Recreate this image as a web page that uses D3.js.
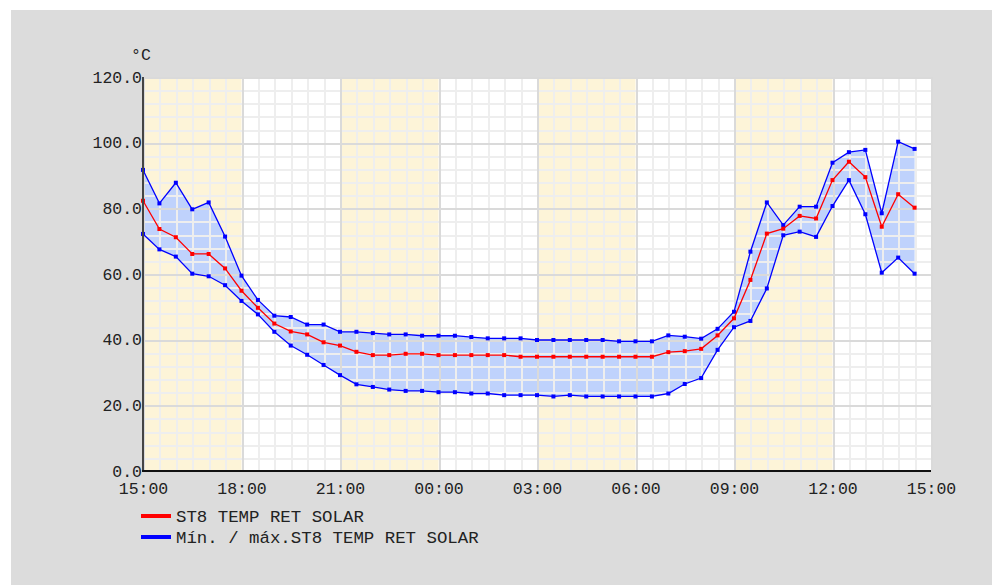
<!DOCTYPE html>
<html>
<head>
<meta charset="utf-8">
<script src="https://cdn.jsdelivr.net/npm/d3@7"></script>
<style>
    body { margin: 0; background: #fff; }
    svg { display: block; }
    text { font-family: "Liberation Mono", "DejaVu Sans Mono", monospace; fill: #222; }
</style>
</head>
<body>
<div id="view"></div>
<script>
// half-hour samples, 15:00 -> 14:30 next day
var times = [
    "15:00", "15:30", "16:00", "16:30", "17:00", "17:30", "18:00", "18:30",
    "19:00", "19:30", "20:00", "20:30", "21:00", "21:30", "22:00", "22:30",
    "23:00", "23:30", "00:00", "00:30", "01:00", "01:30", "02:00", "02:30",
    "03:00", "03:30", "04:00", "04:30", "05:00", "05:30", "06:00", "06:30",
    "07:00", "07:30", "08:00", "08:30", "09:00", "09:30", "10:00", "10:30",
    "11:00", "11:30", "12:00", "12:30", "13:00", "13:30", "14:00", "14:30",
];
var meanTemp = [
    82.3, 73.7, 71.2, 66.1, 66.1, 61.7, 54.9, 49.7, 44.9, 42.5, 41.6, 39.2,
    38.2, 36.3, 35.3, 35.3, 35.7, 35.7, 35.3, 35.3, 35.3, 35.3, 35.3, 34.8,
    34.8, 34.8, 34.8, 34.8, 34.8, 34.8, 34.8, 34.8, 36.2, 36.5, 37.2, 41.3,
    46.5, 58.2, 72.3, 73.8, 77.7, 76.9, 88.6, 94.2, 89.5, 74.4, 84.3, 80.2,
];
var minTemp = [
    72.2, 67.5, 65.3, 60.1, 59.3, 56.6, 51.8, 47.7, 42.4, 38.2, 35.4, 32.3,
    29.2, 26.4, 25.6, 24.8, 24.4, 24.4, 24.0, 24.0, 23.6, 23.6, 23.1, 23.1,
    23.1, 22.7, 23.1, 22.7, 22.7, 22.7, 22.7, 22.7, 23.6, 26.5, 28.3, 36.9,
    43.8, 45.7, 55.6, 71.8, 72.9, 71.3, 80.7, 88.6, 78.2, 60.4, 65.0, 60.1,
];
var maxTemp = [
    91.7, 81.5, 87.8, 79.7, 81.8, 71.4, 59.5, 52.1, 47.3, 46.9, 44.6, 44.6,
    42.4, 42.4, 42.0, 41.6, 41.6, 41.2, 41.2, 41.2, 40.8, 40.4, 40.4, 40.4,
    39.9, 39.9, 39.9, 39.9, 39.9, 39.5, 39.5, 39.5, 41.3, 40.9, 40.3, 43.3,
    48.5, 66.8, 81.8, 74.9, 80.5, 80.5, 93.9, 97.1, 97.8, 78.5, 100.3, 98.1,
];
var bands = [["15:00", "18:00"], ["21:00", "00:00"], ["03:00", "06:00"], ["09:00", "12:00"]];
var legendLabels = ["ST8 TEMP RET SOLAR", "Mín. / máx.ST8 TEMP RET SOLAR"];
var unitLabel = "°C";

var chart = {
    width: 992,
    height: 585,
    left: 143,
    right: 931,
    top: 77,
    bottom: 471,
};

// "HH:MM" -> Date; hours before 15 belong to the next day
function toDate(s, end) {
    var p = s.split(":").map(Number);
    var day = (p[0] < 15 || (end && p[0] === 15)) ? 2 : 1;
    return new Date(2024, 0, day, p[0], p[1]);
}

var start = toDate("15:00");
var stop = toDate("15:00", true);
var x = d3.scaleTime().domain([start, stop]).range([chart.left, chart.right]);
var y = d3.scaleLinear().domain([0, 120]).range([chart.bottom, chart.top]);

var rows = times.map((t, i) => ({
    t: toDate(t),
    mean: meanTemp[i],
    min: minTemp[i],
    max: maxTemp[i],
}));

var svg = d3.select("#view").append("svg")
    .attr("width", chart.width)
    .attr("height", chart.height);

svg.append("rect")
    .attr("x", 11).attr("y", 10)
    .attr("width", chart.width - 11).attr("height", chart.height - 10)
    .attr("fill", "#dcdcdc");

svg.append("rect")
    .attr("x", chart.left).attr("y", chart.top)
    .attr("width", chart.right - chart.left).attr("height", chart.bottom - chart.top)
    .attr("fill", "#fff");

svg.append("g").selectAll("rect")
    .data(bands)
    .enter().append("rect")
    .attr("x", d => x(toDate(d[0])))
    .attr("width", d => x(toDate(d[1])) - x(toDate(d[0])))
    .attr("y", chart.top)
    .attr("height", chart.bottom - chart.top)
    .attr("fill", "#fdf4d8");

// min / max band
svg.append("path")
    .datum(rows)
    .attr("fill", "#bfd2fc")
    .attr("d", d3.area().x(d => x(d.t)).y0(d => y(d.min)).y1(d => y(d.max)));

// grid
var grid = svg.append("g").attr("shape-rendering", "crispEdges");
grid.selectAll(".vminor")
    .data(x.ticks(d3.timeMinute.every(30)))
    .enter().append("line")
    .attr("x1", d => Math.round(x(d)) + 0.5).attr("x2", d => Math.round(x(d)) + 0.5)
    .attr("y1", chart.top).attr("y2", chart.bottom)
    .attr("stroke", "#eeeeee").attr("stroke-width", 2);
grid.selectAll(".hminor")
    .data(d3.range(0, 121, 4))
    .enter().append("line")
    .attr("y1", d => Math.round(y(d)) + 0.5).attr("y2", d => Math.round(y(d)) + 0.5)
    .attr("x1", chart.left).attr("x2", chart.right)
    .attr("stroke", "#eeeeee").attr("stroke-width", 2);
grid.selectAll(".vmajor")
    .data(x.ticks(d3.timeHour.every(3)))
    .enter().append("line")
    .attr("x1", d => Math.round(x(d)) + 0.5).attr("x2", d => Math.round(x(d)) + 0.5)
    .attr("y1", chart.top).attr("y2", chart.bottom)
    .attr("stroke", "#dadada").attr("stroke-width", 2);
grid.selectAll(".hmajor")
    .data(y.ticks(6))
    .enter().append("line")
    .attr("y1", d => Math.round(y(d)) + 0.5).attr("y2", d => Math.round(y(d)) + 0.5)
    .attr("x1", chart.left).attr("x2", chart.right)
    .attr("stroke", "#dadada").attr("stroke-width", 2);

// series
var series = [
    {key: "max", color: "#0000ff"},
    {key: "min", color: "#0000ff"},
    {key: "mean", color: "#ff0000"},
];
series.forEach(s => {
    svg.append("path")
        .datum(rows)
        .attr("fill", "none")
        .attr("stroke", s.color)
        .attr("stroke-width", 1.3)
        .attr("d", d3.line().x(d => x(d.t)).y(d => y(d[s.key])));
    svg.append("g").selectAll("rect")
        .data(rows)
        .enter().append("rect")
        .attr("x", d => x(d.t) - 2)
        .attr("y", d => y(d[s.key]) - 2)
        .attr("width", 4).attr("height", 4)
        .attr("fill", s.color);
});

// axes
var yAxis = svg.append("g")
    .attr("transform", `translate(${chart.left}, 0)`)
    .call(d3.axisLeft(y).ticks(6).tickSize(0).tickPadding(1).tickFormat(d3.format(".1f")));
var xAxis = svg.append("g")
    .attr("transform", `translate(0, ${chart.bottom})`)
    .call(d3.axisBottom(x).ticks(d3.timeHour.every(3)).tickSize(0).tickPadding(11)
        .tickFormat(d3.timeFormat("%H:%M")));
[xAxis, yAxis].forEach(a => {
    a.select(".domain").remove();
    a.selectAll("text")
        .attr("fill", "#222")
        .style("font-family", '"Liberation Mono", "DejaVu Sans Mono", monospace')
        .style("font-size", "16.5px");
});

svg.append("line")
    .attr("x1", chart.left).attr("x2", chart.left)
    .attr("y1", chart.top).attr("y2", chart.bottom + 1)
    .attr("stroke", "#444").attr("stroke-width", 2);
svg.append("line")
    .attr("x1", chart.left - 1).attr("x2", chart.right)
    .attr("y1", chart.bottom).attr("y2", chart.bottom)
    .attr("stroke", "#111").attr("stroke-width", 2);

svg.append("text")
    .attr("x", 131).attr("y", 60)
    .style("font-size", "16.5px")
    .text(unitLabel);

// legend
var legend = svg.append("g").selectAll("g")
    .data(legendLabels)
    .enter().append("g")
    .attr("transform", (d, i) => `translate(141, ${516 + i * 21})`);
legend.append("line")
    .attr("x1", 0).attr("x2", 30)
    .attr("stroke", (d, i) => i === 0 ? "#ff0000" : "#0000ff")
    .attr("stroke-width", 4);
legend.append("text")
    .attr("x", 35).attr("y", 6)
    .style("font-size", "17.4px")
    .text(d => d);
</script>
</body>
</html>
